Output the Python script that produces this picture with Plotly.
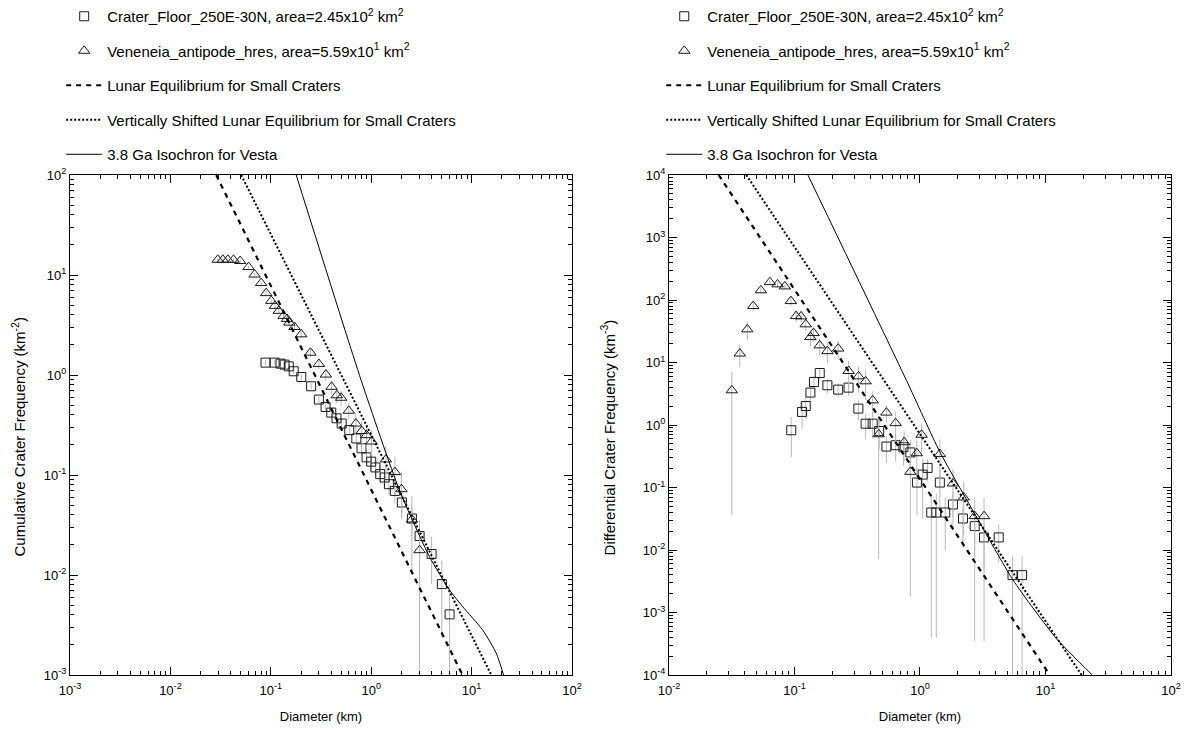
import plotly.graph_objects as go

# ---------------- data ----------------
AREA_FLOOR = 2.45e2   # km^2
AREA_VEN = 5.59e1     # km^2

# cumulative size-frequency (km^-2)
floor_cum_D = [0.0885, 0.109, 0.125, 0.137, 0.151, 0.169, 0.201, 0.252, 0.301, 0.351,
               0.400, 0.451, 0.508, 0.604, 0.710, 0.800, 0.898, 1.00, 1.10, 1.23,
               1.36, 1.50, 1.72, 2.02, 2.54, 3.03, 3.99, 5.05, 6.03]
floor_cum_N = [1.33, 1.33, 1.30, 1.27, 1.22, 1.09, 0.955, 0.771, 0.568, 0.479,
               0.421, 0.369, 0.327, 0.281, 0.232, 0.185, 0.150, 0.136, 0.119, 0.102,
               0.0944, 0.0809, 0.0693, 0.0531, 0.0367, 0.0245, 0.0162, 0.00811, 0.00404]

ven_cum_D = [0.0296, 0.0333, 0.0373, 0.0425, 0.0495, 0.0600, 0.0689, 0.0801, 0.0899, 0.101,
             0.110, 0.120, 0.134, 0.145, 0.153, 0.172, 0.201, 0.248, 0.301, 0.353,
             0.403, 0.454, 0.502, 0.598, 0.703, 0.805, 0.898, 1.01, 1.40, 1.72,
             2.00, 2.54, 3.03]
ven_cum_N = [14.2, 14.2, 14.2, 14.2, 13.8, 12.0, 10.1, 8.30, 6.59, 5.51,
             4.91, 4.38, 3.90, 3.64, 3.34, 3.02, 2.55, 1.67, 1.29, 1.01,
             0.762, 0.627, 0.592, 0.439, 0.327, 0.275, 0.250, 0.216, 0.143, 0.107,
             0.0721, 0.0359, 0.0177]

# differential size-frequency (km^-3) with relative uncertainty
floor_diff_D = [0.0943, 0.115, 0.123, 0.134, 0.143, 0.159, 0.183, 0.223, 0.270, 0.323,
                0.369, 0.420, 0.473, 0.540, 0.640, 0.738, 0.838, 0.946, 1.05, 1.15,
                1.23, 1.35, 1.44, 1.59, 1.83, 2.20, 2.73, 3.24, 4.24, 5.46, 6.51]
floor_diff_R = [0.824, 1.62, 2.01, 3.30, 4.88, 6.79, 4.32, 3.68, 3.96, 1.83,
                1.05, 1.05, 0.803, 0.452, 0.474, 0.441, 0.364, 0.120, 0.161, 0.206,
                0.0398, 0.0398, 0.120, 0.0398, 0.0535, 0.0319, 0.0241, 0.0159, 0.0159,
                0.00396, 0.00396]
floor_diff_relerr = [0.63, 0.46, 0.38, 0.30, 0.25, 0.22, 0.25, 0.25, 0.25, 0.35,
                     0.42, 0.42, 0.50, 0.45, 0.45, 0.50, 0.60, 0.70, 0.80, 0.38,
                     0.99, 0.99, 0.60, 0.75, 0.60, 0.60, 0.60, 0.70, 0.60, 1.0, 1.0]

ven_diff_D = [0.0317, 0.0367, 0.0421, 0.0469, 0.0540, 0.0637, 0.0733, 0.0838, 0.0936, 0.103,
              0.113, 0.123, 0.134, 0.142, 0.159, 0.183, 0.223, 0.270, 0.324, 0.369,
              0.420, 0.469, 0.540, 0.640, 0.748, 0.838, 0.944, 1.03, 1.44, 1.83,
              2.23, 2.73, 3.24]
ven_diff_R = [3.59, 13.9, 33.9, 80.0, 143, 193, 178, 165, 96.1, 55.3,
              54.7, 40.8, 25.5, 29.6, 18.8, 15.2, 16.7, 7.31, 6.01, 5.00,
              2.48, 0.711, 1.58, 1.07, 0.530, 0.178, 0.353, 0.698, 0.344, 0.116,
              0.0692, 0.0348, 0.0348]
ven_diff_relerr = [0.99, 0.40, 0.33, 0.17, 0.12, 0.10, 0.10, 0.10, 0.15, 0.20,
                   0.20, 0.22, 0.28, 0.26, 0.30, 0.35, 0.33, 0.45, 0.45, 0.50,
                   0.40, 0.99, 0.31, 0.50, 0.50, 0.99, 0.60, 0.50, 0.70, 0.70,
                   0.75, 0.99, 0.99]

# reference curves (cumulative)
lunar_eq_cum_D = [0.0286, 8.11]
lunar_eq_cum_N = [1e2, 1e-3]
shifted_eq_cum_D = [0.0507, 15.7]
shifted_eq_cum_N = [1e2, 1e-3]
iso_cum_D = [0.179, 0.794, 1.91, 3.81, 6.03, 8.17, 12.9, 17.6, 20.8]
iso_cum_N = [100, 0.885, 0.0705, 0.0152, 0.00706, 0.00481, 0.00281, 0.00165, 0.001]

# reference curves (differential)
lunar_eq_diff_D = [0.0249, 10.8]
lunar_eq_diff_R = [1e4, 1e-4]
shifted_eq_diff_D = [0.0413, 19.4]
shifted_eq_diff_R = [1e4, 1e-4]
iso_diff_D = [0.128, 0.780, 1.44, 2.82, 5.52, 12.2, 23.6]
iso_diff_R = [1e4, 5.19, 0.371, 0.0339, 0.0033, 3.85e-4, 1e-4]

# axis decades
cum_x_exps = [-3, -2, -1, 0, 1, 2]
cum_y_exps = [-3, -2, -1, 0, 1, 2]
diff_x_exps = [-2, -1, 0, 1, 2]
diff_y_exps = [-4, -3, -2, -1, 0, 1, 2, 3, 4]

NAME_FLOOR = "Crater_Floor_250E-30N, area=2.45x10<sup>2</sup> km<sup>2</sup>"
NAME_VEN = "Veneneia_antipode_hres, area=5.59x10<sup>1</sup> km<sup>2</sup>"
NAME_EQ = "Lunar Equilibrium for Small Craters"
NAME_SHIFT = "Vertically Shifted Lunar Equilibrium for Small Craters"
NAME_ISO = "3.8 Ga Isochron for Vesta"
TITLE_X = "Diameter (km)"
TITLE_CUM = "Cumulative Crater Frequency (km<sup>-2</sup>)"
TITLE_DIFF = "Differential Crater Frequency (km<sup>-3</sup>)"

FONT = "Liberation Sans, Arial, Helvetica, sans-serif"
ERR_COLOR = "#b8b8b8"


def poisson_err(values, area):
    out = []
    for v in values:
        n = max(1, round(v * area))
        out.append(v / n ** 0.5)
    return out


def rel_err(values, rel):
    return [v * r for v, r in zip(values, rel)]


fig = go.Figure()


def add_panel(xa, ya, legend, sq_D, sq_V, sq_E, tr_D, tr_V, tr_E,
              eq_D, eq_V, sh_D, sh_V, iso_D, iso_V):
    common = dict(xaxis=xa, yaxis=ya, legend=legend)
    fig.add_trace(go.Scatter(
        x=sq_D, y=sq_V, mode="markers", name=NAME_FLOOR, legendgroup=legend + "a",
        marker=dict(symbol="square-open", size=9, color="#1a1a1a", line=dict(width=1)),
        error_y=dict(type="data", array=sq_E, color=ERR_COLOR, thickness=1, width=0),
        **common))
    fig.add_trace(go.Scatter(
        x=tr_D, y=tr_V, mode="markers", name=NAME_VEN, legendgroup=legend + "b",
        marker=dict(symbol="triangle-up-open", size=10, color="#1a1a1a", line=dict(width=1)),
        error_y=dict(type="data", array=tr_E, color=ERR_COLOR, thickness=1, width=0),
        **common))
    fig.add_trace(go.Scatter(
        x=eq_D, y=eq_V, mode="lines", name=NAME_EQ, legendgroup=legend + "c",
        line=dict(color="black", width=2.2, dash="5px,5px"), **common))
    fig.add_trace(go.Scatter(
        x=sh_D, y=sh_V, mode="lines", name=NAME_SHIFT, legendgroup=legend + "d",
        line=dict(color="black", width=2, dash="2px,2px"), **common))
    fig.add_trace(go.Scatter(
        x=iso_D, y=iso_V, mode="lines", name=NAME_ISO, legendgroup=legend + "e",
        line=dict(color="black", width=1, shape="spline", smoothing=0.6), **common))


add_panel("x", "y", "legend",
          floor_cum_D, floor_cum_N, poisson_err(floor_cum_N, AREA_FLOOR),
          ven_cum_D, ven_cum_N, poisson_err(ven_cum_N, AREA_VEN),
          lunar_eq_cum_D, lunar_eq_cum_N, shifted_eq_cum_D, shifted_eq_cum_N,
          iso_cum_D, iso_cum_N)
add_panel("x2", "y2", "legend2",
          floor_diff_D, floor_diff_R, rel_err(floor_diff_R, floor_diff_relerr),
          ven_diff_D, ven_diff_R, rel_err(ven_diff_R, ven_diff_relerr),
          lunar_eq_diff_D, lunar_eq_diff_R, shifted_eq_diff_D, shifted_eq_diff_R,
          iso_diff_D, iso_diff_R)

# empty traces that give the minor-tick overlay axes a subplot to live on
for xa, ya in [("x3", "y"), ("x", "y3"), ("x4", "y2"), ("x2", "y4")]:
    fig.add_trace(go.Scatter(x=[None], y=[None], xaxis=xa, yaxis=ya,
                             showlegend=False, hoverinfo="skip"))


def major_axis(exps, domain, anchor, title=None, standoff=0, label_gap=0):
    ax = dict(
        type="log", range=[exps[0], exps[-1]], domain=domain, anchor=anchor,
        tickmode="array", tickvals=[10.0 ** e for e in exps],
        ticktext=["10<sup>%d</sup>" % e for e in exps],
        ticks="inside", ticklen=8, tickwidth=1, tickcolor="black",
        showline=True, linecolor="black", linewidth=1, mirror="ticks",
        showgrid=False, zeroline=False,
        tickfont=dict(family=FONT, size=13, color="black"),
        ticklabelstandoff=label_gap,
    )
    if title:
        ax["title"] = dict(text=title, font=dict(family=FONT, size=13, color="black"),
                           standoff=standoff)
    return ax


def minor_axis(exps, domain, anchor, overlaying):
    vals = [m * 10.0 ** e for e in exps[:-1] for m in range(2, 10)]
    return dict(
        type="log", range=[exps[0], exps[-1]], domain=domain, anchor=anchor,
        overlaying=overlaying,
        tickmode="array", tickvals=vals, showticklabels=False,
        ticks="inside", ticklen=4, tickwidth=1, tickcolor="black",
        showline=False, mirror="ticks", showgrid=False, zeroline=False,
    )


LEFT = [0, 0.456]
RIGHT = [0.544, 1]
FULL = [0, 1]

legend_style = dict(yanchor="top", xanchor="left", y=1.35,
                    font=dict(family=FONT, size=15, color="black"), itemwidth=36,
                    tracegroupgap=12, bgcolor="rgba(0,0,0,0)")

fig.update_layout(
    width=1187, height=730,
    margin=dict(l=70, r=16, t=175, b=55, autoexpand=False),
    paper_bgcolor="white", plot_bgcolor="white",
    font=dict(family=FONT, color="black"),
    xaxis=major_axis(cum_x_exps, LEFT, "y", TITLE_X, 15, 3),
    yaxis=major_axis(cum_y_exps, FULL, "x"),
    xaxis2=major_axis(diff_x_exps, RIGHT, "y2", TITLE_X, 15, 3),
    yaxis2=major_axis(diff_y_exps, FULL, "x2"),
    xaxis3=minor_axis(cum_x_exps, LEFT, "y", "x"),
    yaxis3=minor_axis(cum_y_exps, FULL, "x", "y"),
    xaxis4=minor_axis(diff_x_exps, RIGHT, "y2", "x2"),
    yaxis4=minor_axis(diff_y_exps, FULL, "x2", "y2"),
    legend=dict(x=-0.008, **legend_style),
    legend2=dict(x=0.537, **legend_style),
    showlegend=True,
    annotations=[
        dict(text=TITLE_CUM, textangle=-90, xref="paper", yref="paper",
             x=-0.0472, y=0.475, xanchor="center", yanchor="middle", showarrow=False,
             font=dict(family=FONT, size=15, color="black")),
        dict(text=TITLE_DIFF, textangle=-90, xref="paper", yref="paper",
             x=0.4886, y=0.475, xanchor="center", yanchor="middle", showarrow=False,
             font=dict(family=FONT, size=15, color="black")),
    ],
)

fig.write_html("out.html")
